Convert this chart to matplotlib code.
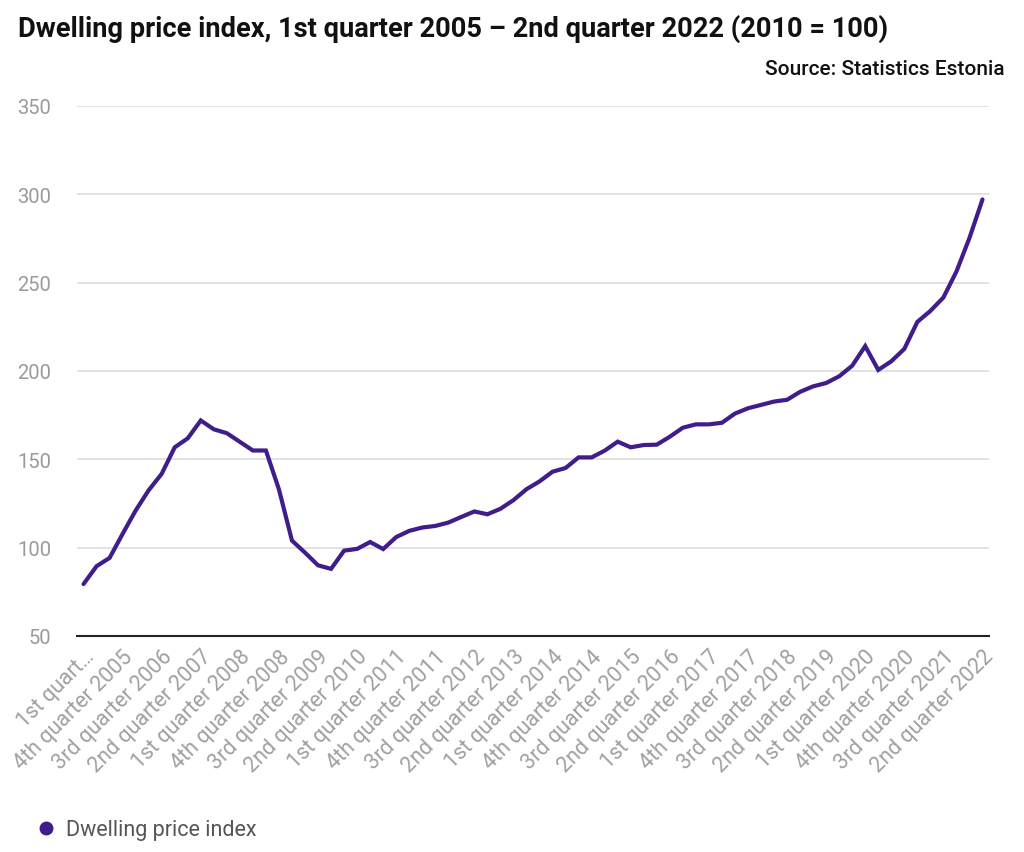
import numpy as np
import matplotlib
matplotlib.use("Agg")
import matplotlib.pyplot as plt
from matplotlib.lines import Line2D

plt.rcParams["font.family"] = ["Roboto", "DejaVu Sans"]

# --- data: dwelling price index, 2005 Q1 .. 2022 Q2 (2010 = 100) ---
quarters = [f"{q} quarter {y}" for y in range(2005, 2023)
            for q in ["1st", "2nd", "3rd", "4th"]][:70]
index_values = [
    79.4, 89.5, 94.2, 107.8,     # 2005
    121.0, 132.5, 141.8, 156.8,  # 2006
    161.9, 172.0, 167.0, 164.8,  # 2007
    159.9, 155.0, 155.0, 133.0,  # 2008
    104.0, 97.2, 90.0, 88.0,     # 2009
    98.3, 99.3, 103.2, 99.2,     # 2010
    106.0, 109.5, 111.4, 112.3,  # 2011
    114.2, 117.4, 120.5, 118.9,  # 2012
    122.0, 126.9, 133.1, 137.5,  # 2013
    143.0, 145.1, 151.1, 151.1,  # 2014
    154.9, 160.0, 156.8, 158.1,  # 2015
    158.3, 162.8, 167.9, 169.8,  # 2016
    169.8, 170.7, 175.9, 178.9,  # 2017
    180.8, 182.7, 183.7, 188.2,  # 2018
    191.3, 193.2, 197.0, 203.0,  # 2019
    214.1, 200.6, 205.5, 212.5,  # 2020
    227.8, 234.0, 241.6, 256.3,  # 2021
    275.3, 297.1,                # 2022
]
yticks = [50, 100, 150, 200, 250, 300, 350]

line_color = "#3f1d8a"
grey = "#9a9a9a"

fig = plt.figure(figsize=(10.24, 8.53), dpi=100)
ax = fig.add_axes([77 / 1024, 1 - 637 / 853, (989 - 77) / 1024, (637 - 107) / 853])

x = np.arange(len(index_values))
ax.plot(x, index_values, color=line_color, lw=3.0, solid_joinstyle="miter",
        solid_capstyle="round", zorder=3)

ax.set_xlim(-0.5, len(index_values) - 0.5)
ax.set_ylim(50, 350)
ax.set_yticks(yticks)
ax.set_yticklabels([str(v) for v in yticks], color=grey, fontsize=14.5)
ax.tick_params(axis="y", length=0, pad=18.5)
ax.grid(axis="y", color="#dddddd", lw=1.2)
ax.set_axisbelow(True)

tick_pos = x[::3]
tick_lbl = [quarters[i] for i in tick_pos]
tick_lbl[0] = "1st quart…"
ax.set_xticks(tick_pos)
ax.set_xticklabels(tick_lbl, rotation=45, ha="right", va="top",
                   rotation_mode="anchor", color="#a0a0a0", fontsize=15.5)
ax.tick_params(axis="x", length=0, pad=7)

for s in ["top", "right", "left"]:
    ax.spines[s].set_visible(False)
ax.spines["bottom"].set_color("#222222")
ax.spines["bottom"].set_linewidth(1.5)
ax.spines["bottom"].set_zorder(4)

fig.text(18 / 1024, 1 - 37 / 853,
         "Dwelling price index, 1st quarter 2005 \u2013 2nd quarter 2022 (2010 = 100)",
         fontsize=19.6, fontweight="bold", color="#111111", ha="left", va="baseline")
fig.text(1005 / 1024, 1 - 75 / 853, "Source: Statistics Estonia",
         fontsize=15, fontweight="medium", color="#111111", ha="right", va="baseline")

handle = Line2D([], [], marker="o", ls="none", color=line_color, markersize=9)
fig.legend([handle], ["Dwelling price index"], loc="center left",
           bbox_to_anchor=(14 / 1024, 1 - 831 / 853), frameon=False,
           fontsize=15.5, labelcolor="#555555", handletextpad=0.3, handlelength=1.2)

fig.savefig("out.png", dpi=100)
